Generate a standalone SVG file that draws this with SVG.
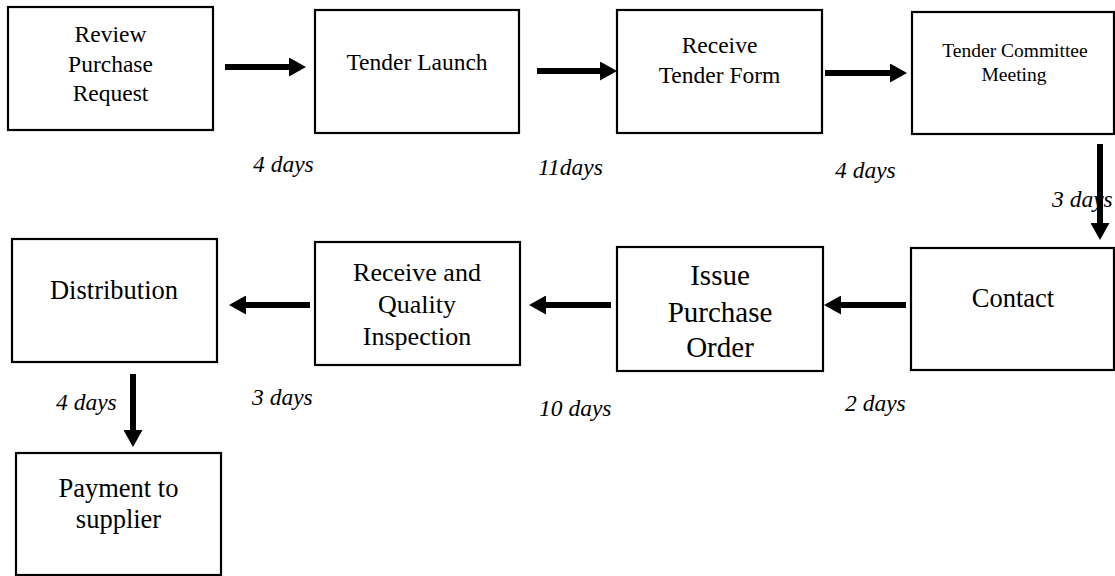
<svg xmlns="http://www.w3.org/2000/svg" width="1115" height="576" viewBox="0 0 1115 576">
  <style>
    .box { fill: #ffffff; stroke: #000000; stroke-width: 2.2; }
    .t { font-family: "Liberation Serif", "Times New Roman", serif; fill: #000000; text-anchor: middle; }
    .lbl { font-family: "Liberation Serif", "Times New Roman", serif; font-style: italic; font-size: 23.5px; fill: #000000; }
    .conn { stroke: #000000; stroke-width: 6; fill: none; marker-end: url(#head); }
  </style>
  <defs>
    <marker id="head" markerUnits="userSpaceOnUse" markerWidth="17" markerHeight="19" refX="2" refY="9.5" orient="auto">
      <path d="M0,0 L17,9.5 L0,19 Z" fill="#000000"/>
    </marker>
  </defs>
  <rect width="1115" height="576" fill="#ffffff"/>

  <g id="review-purchase-request">
    <rect class="box" x="8" y="7" width="205" height="123"/>
    <text class="t" font-size="23.5" x="110.5" y="42">Review</text>
    <text class="t" font-size="23.5" x="110.5" y="72">Purchase</text>
    <text class="t" font-size="23.5" x="110.5" y="101">Request</text>
  </g>

  <g id="tender-launch">
    <rect class="box" x="315" y="10" width="204" height="123"/>
    <text class="t" font-size="23.5" x="417" y="70">Tender Launch</text>
  </g>

  <g id="receive-tender-form">
    <rect class="box" x="617" y="10" width="205" height="123"/>
    <text class="t" font-size="23.5" x="719.5" y="53">Receive</text>
    <text class="t" font-size="23.5" x="719.5" y="83">Tender Form</text>
  </g>

  <g id="tender-committee-meeting">
    <rect class="box" x="912" y="12" width="202" height="122"/>
    <text class="t" font-size="19.5" x="1015" y="57">Tender Committee</text>
    <text class="t" font-size="19.5" x="1014" y="81">Meeting</text>
  </g>

  <g id="contact">
    <rect class="box" x="911" y="248" width="203" height="122"/>
    <text class="t" font-size="26.5" x="1013" y="307">Contact</text>
  </g>

  <g id="issue-purchase-order">
    <rect class="box" x="617" y="247" width="206" height="124"/>
    <text class="t" font-size="29" x="720" y="285">Issue</text>
    <text class="t" font-size="29" x="720" y="322">Purchase</text>
    <text class="t" font-size="29" x="720" y="357">Order</text>
  </g>

  <g id="receive-quality-inspection">
    <rect class="box" x="315" y="242" width="205" height="123"/>
    <text class="t" font-size="26" x="417" y="281">Receive and</text>
    <text class="t" font-size="26" x="417" y="313">Quality</text>
    <text class="t" font-size="26" x="417" y="345">Inspection</text>
  </g>

  <g id="distribution">
    <rect class="box" x="12" y="239" width="205" height="123"/>
    <text class="t" font-size="26.5" x="114" y="299">Distribution</text>
  </g>

  <g id="payment-to-supplier">
    <rect class="box" x="16" y="453" width="205" height="122"/>
    <text class="t" font-size="26.5" x="118.5" y="497">Payment to</text>
    <text class="t" font-size="26.5" x="118.5" y="528">supplier</text>
  </g>

  <!-- duration labels between steps -->
  <g id="durations">
    <text class="lbl" x="253" y="172">4 days</text>
    <text class="lbl" x="538" y="175">11days</text>
    <text class="lbl" x="835" y="178">4 days</text>
    <text class="lbl" x="1052" y="207">3 days</text>
    <text class="lbl" x="845" y="411">2 days</text>
    <text class="lbl" x="539" y="416">10 days</text>
    <text class="lbl" x="252" y="405">3 days</text>
    <text class="lbl" x="56" y="410">4 days</text>
  </g>

  <!-- flow arrows -->
  <g id="connectors">
    <line class="conn" x1="225" y1="67" x2="291" y2="67"/>
    <line class="conn" x1="537" y1="71" x2="602" y2="71"/>
    <line class="conn" x1="825" y1="73" x2="892" y2="73"/>
    <line class="conn" x1="1100" y1="144" x2="1100" y2="225"/>
    <line class="conn" x1="906" y1="305" x2="839" y2="305"/>
    <line class="conn" x1="611" y1="305" x2="544" y2="305"/>
    <line class="conn" x1="310" y1="305" x2="244" y2="305"/>
    <line class="conn" x1="133" y1="374" x2="133" y2="432"/>
  </g>
</svg>
